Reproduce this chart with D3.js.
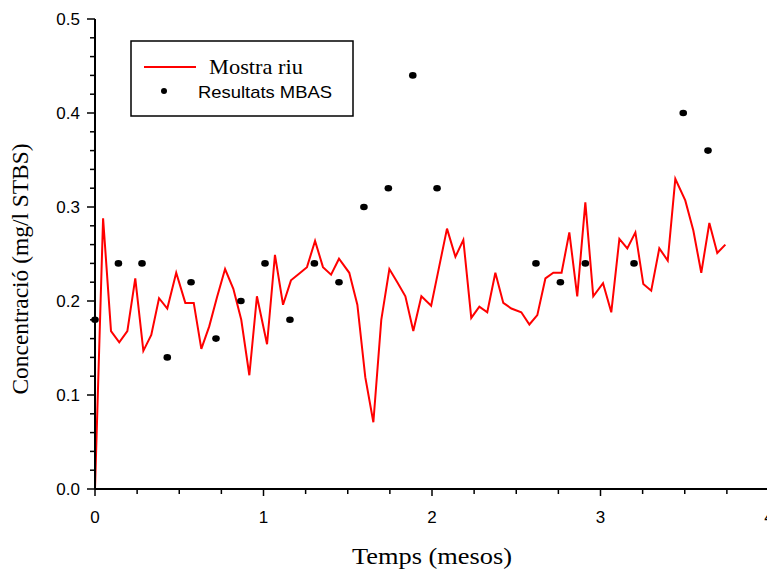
<!DOCTYPE html>
<html>
<head>
<meta charset="utf-8">
<script src="https://cdn.jsdelivr.net/npm/d3@7"></script>
<style>
  body { margin: 0; background: #fff; }
  svg { display: block; }
</style>
</head>
<body>
<div id="chart"></div>
<script>
// Mostra riu (line)
var riuTemps = [0.000, 0.048, 0.095, 0.144, 0.192, 0.239, 0.287, 0.334, 0.380, 0.429,
    0.482, 0.536, 0.586, 0.631, 0.678, 0.724, 0.772, 0.821, 0.868, 0.916,
    0.961, 1.021, 1.068, 1.116, 1.163, 1.211, 1.258, 1.306, 1.353, 1.401,
    1.448, 1.509, 1.557, 1.604, 1.652, 1.699, 1.747, 1.794, 1.842, 1.889,
    1.937, 1.995, 2.042, 2.089, 2.139, 2.186, 2.233, 2.281, 2.328, 2.376,
    2.423, 2.471, 2.530, 2.578, 2.625, 2.673, 2.720, 2.769, 2.815, 2.862,
    2.910, 2.957, 3.015, 3.064, 3.112, 3.159, 3.207, 3.254, 3.301, 3.349,
    3.399, 3.444, 3.503, 3.551, 3.598, 3.646, 3.693, 3.741];
var riuConc = [0.000, 0.288, 0.168, 0.156, 0.168, 0.224, 0.147, 0.164, 0.203, 0.192,
    0.230, 0.198, 0.198, 0.149, 0.173, 0.204, 0.234, 0.213, 0.180, 0.121,
    0.205, 0.154, 0.249, 0.196, 0.222, 0.229, 0.236, 0.264, 0.236, 0.228,
    0.245, 0.230, 0.196, 0.119, 0.071, 0.180, 0.234, 0.220, 0.205, 0.168,
    0.205, 0.195, 0.236, 0.277, 0.247, 0.265, 0.182, 0.194, 0.188, 0.230,
    0.198, 0.192, 0.188, 0.175, 0.185, 0.224, 0.230, 0.230, 0.273, 0.205,
    0.305, 0.205, 0.219, 0.188, 0.266, 0.256, 0.273, 0.218, 0.211, 0.256,
    0.243, 0.330, 0.307, 0.275, 0.230, 0.283, 0.251, 0.260];

// Resultats MBAS (points)
var mbasTemps = [0.000, 0.139, 0.279, 0.429, 0.570, 0.718, 0.866, 1.009, 1.157, 1.302,
    1.448, 1.596, 1.741, 1.886, 2.030, 2.617, 2.762, 2.910, 3.199, 3.491, 3.638];
var mbasConc = [0.18, 0.24, 0.24, 0.14, 0.22, 0.16, 0.20, 0.24, 0.18, 0.24,
    0.22, 0.30, 0.32, 0.44, 0.32, 0.24, 0.22, 0.24, 0.24, 0.40, 0.36];

var xTicks = [0, 1, 2, 3, 4];
var yTicks = [0.0, 0.1, 0.2, 0.3, 0.4, 0.5];

var width = 767, height = 571;
var margin = {top: 19, left: 95};

var svg = d3.select("#chart").append("svg")
    .attr("width", width)
    .attr("height", height);

var x = d3.scaleLinear().domain([0, 4]).range([margin.left, margin.left + 4 * 168.5]);
var y = d3.scaleLinear().domain([0, 0.5]).range([489, margin.top]);

var lineData = riuTemps.map(function(t, i) { return [t, riuConc[i]]; });
var dotData = mbasTemps.map(function(t, i) { return [t, mbasConc[i]]; });

// line
svg.append("path")
    .datum(lineData)
    .attr("fill", "none")
    .attr("stroke", "#ff0000")
    .attr("stroke-width", 2)
    .attr("stroke-linejoin", "miter")
    .attr("d", d3.line().x(function(d) { return x(d[0]); }).y(function(d) { return y(d[1]); }));

// points
svg.selectAll(".dot")
    .data(dotData)
    .enter().append("ellipse")
    .attr("class", "dot")
    .attr("cx", function(d) { return x(d[0]); })
    .attr("cy", function(d) { return y(d[1]); })
    .attr("rx", 3.8)
    .attr("ry", 3.3)
    .attr("fill", "#000");

// x axis
var xAxis = svg.append("g")
    .attr("transform", "translate(0,489)");
xAxis.append("line")
    .attr("x1", x(0)).attr("x2", width)
    .attr("stroke", "#000").attr("stroke-width", 2);
xAxis.selectAll(".minor")
    .data(d3.range(0, 17).map(function(i) { return i * 0.25; }))
    .enter().append("line")
    .attr("x1", function(d) { return x(d); })
    .attr("x2", function(d) { return x(d); })
    .attr("y1", 0)
    .attr("y2", function(d) { return d % 1 === 0 ? 7 : 5; })
    .attr("stroke", "#000").attr("stroke-width", 1.5);
xAxis.selectAll(".lbl")
    .data(xTicks)
    .enter().append("text")
    .attr("x", function(d) { return x(d); })
    .attr("y", 34)
    .attr("text-anchor", "middle")
    .style("font-family", "'Liberation Sans', Arial, sans-serif")
    .style("font-size", "17px")
    .text(function(d) { return d; });

// y axis
var yAxis = svg.append("g")
    .attr("transform", "translate(" + margin.left + ",0)");
yAxis.append("line")
    .attr("y1", y(0)).attr("y2", y(0.5))
    .attr("stroke", "#000").attr("stroke-width", 2);
yAxis.selectAll(".minor")
    .data(d3.range(0, 26).map(function(i) { return i * 0.02; }))
    .enter().append("line")
    .attr("y1", function(d) { return y(d); })
    .attr("y2", function(d) { return y(d); })
    .attr("x1", function(d, i) { return i % 5 === 0 ? -8 : -5; })
    .attr("x2", 0)
    .attr("stroke", "#000").attr("stroke-width", 1.5);
yAxis.selectAll(".lbl")
    .data(yTicks)
    .enter().append("text")
    .attr("x", -15)
    .attr("y", function(d) { return y(d); })
    .attr("dy", "0.35em")
    .attr("text-anchor", "end")
    .style("font-family", "'Liberation Sans', Arial, sans-serif")
    .style("font-size", "17px")
    .text(d3.format(".1f"));

// axis titles
svg.append("text")
    .attr("x", x(2))
    .attr("y", 564)
    .attr("text-anchor", "middle")
    .attr("textLength", 160)
    .attr("lengthAdjust", "spacingAndGlyphs")
    .style("font-family", "'Liberation Serif', 'Times New Roman', serif")
    .style("font-size", "24px")
    .text("Temps (mesos)");

svg.append("text")
    .attr("transform", "translate(28,269) rotate(-90)")
    .attr("text-anchor", "middle")
    .attr("textLength", 251)
    .attr("lengthAdjust", "spacingAndGlyphs")
    .style("font-family", "'Liberation Serif', 'Times New Roman', serif")
    .style("font-size", "23px")
    .text("Concentració (mg/l STBS)");

// legend
var legend = svg.append("g");
legend.append("rect")
    .attr("x", 131).attr("y", 41)
    .attr("width", 222).attr("height", 75)
    .attr("fill", "#fff")
    .attr("stroke", "#000").attr("stroke-width", 1.5);
legend.append("line")
    .attr("x1", 144).attr("x2", 196)
    .attr("y1", 67).attr("y2", 67)
    .attr("stroke", "#ff0000").attr("stroke-width", 2);
legend.append("text")
    .attr("x", 209).attr("y", 74)
    .attr("textLength", 94)
    .attr("lengthAdjust", "spacingAndGlyphs")
    .style("font-family", "'Liberation Serif', 'Times New Roman', serif")
    .style("font-size", "22px")
    .text("Mostra riu");
legend.append("circle")
    .attr("cx", 164).attr("cy", 91)
    .attr("r", 3)
    .attr("fill", "#000");
legend.append("text")
    .attr("x", 198).attr("y", 98)
    .attr("textLength", 134)
    .attr("lengthAdjust", "spacingAndGlyphs")
    .style("font-family", "'Liberation Sans', Arial, sans-serif")
    .style("font-size", "17px")
    .text("Resultats MBAS");
</script>
</body>
</html>
